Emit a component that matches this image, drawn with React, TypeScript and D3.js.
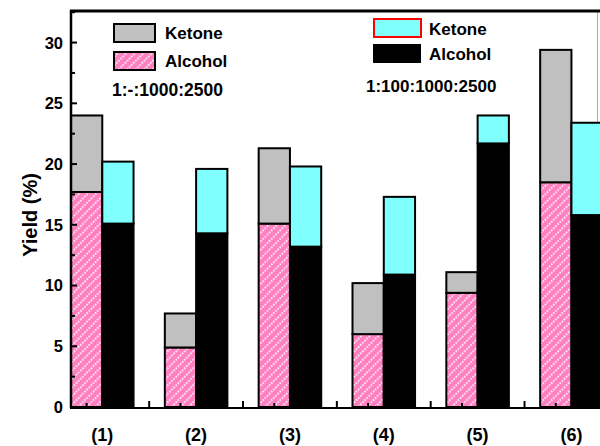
import * as d3 from 'd3';

const groups = ['(1)', '(2)', '(3)', '(4)', '(5)', '(6)'];
// 1:-:1000:2500 series
const alcoholA = [17.7, 4.9, 15.1, 6.0, 9.4, 18.5];
const ketoneA = [24.0, 7.7, 21.3, 10.2, 11.1, 29.4]; // stacked totals
// 1:100:1000:2500 series
const alcoholB = [15.1, 14.3, 13.2, 10.9, 21.7, 15.8];
const ketoneB = [20.2, 19.6, 19.8, 17.3, 24.0, 23.4]; // stacked totals
const yTicks = [0, 5, 10, 15, 20, 25, 30];

const W = 600;
const H = 446;
const font = 'Liberation Sans, Arial, sans-serif';

export default function App() {
  // every bar takes one unit: A at 3k+1, B at 3k+2, gap at 3k+3
  const x = d3.scaleLinear().domain([0.5, 18.5]).range([71, 634]);
  const y = d3.scaleLinear().domain([0, 32.6]).range([407, 11]);
  const bw = x(1) - x(0);

  const minorY = d3.range(0, 33, 2.5).filter(v => v % 5 !== 0);
  const xTickPos = d3.range(1, 19);

  const bars: { x: number; y0: number; y1: number; fill: string }[] = [];
  groups.forEach((_, i) => {
    const pa = 3 * i + 1;
    const pb = 3 * i + 2;
    bars.push({ x: pa, y0: 0, y1: alcoholA[i], fill: 'url(#hatch)' });
    bars.push({ x: pa, y0: alcoholA[i], y1: ketoneA[i], fill: '#c0c0c0' });
    bars.push({ x: pb, y0: 0, y1: alcoholB[i], fill: '#000' });
    bars.push({ x: pb, y0: alcoholB[i], y1: ketoneB[i], fill: '#80ffff' });
  });

  return (
    <svg width={W} height={H} style={{ position: 'absolute', left: 0, top: 0, background: '#fff' }}>
      <defs>
        <pattern id="hatch" width="6" height="6" patternUnits="userSpaceOnUse" patternTransform="rotate(45)">
          <rect width="6" height="6" fill="#ff80c0" />
          <line x1="1" y1="0" x2="1" y2="6" stroke="#fff" strokeWidth="1.8" strokeDasharray="1.5,1.5" />
        </pattern>
      </defs>

      {/* frame */}
      <line x1={597.5} x2={597.5} y1={11} y2={408} stroke="#aaa" strokeWidth={1} />
      <line x1={70} x2={600} y1={11} y2={11} stroke="#000" strokeWidth={3} />

      {bars.map((b, i) => (
        <rect key={i} x={x(b.x - 0.5)} y={y(b.y1)} width={bw} height={y(b.y0) - y(b.y1)}
          fill={b.fill} stroke="#000" strokeWidth={2} />
      ))}

      {/* axes */}
      <line x1={71} x2={71} y1={10} y2={408} stroke="#000" strokeWidth={2.5} />
      <line x1={70} x2={600} y1={408} y2={408} stroke="#000" strokeWidth={2} />
      {yTicks.map(t => (
        <g key={t}>
          <line x1={71} x2={77} y1={y(t)} y2={y(t)} stroke="#000" strokeWidth={2} />
          <text x={63} y={y(t)} dy="0.36em" textAnchor="end" fontFamily={font} fontWeight="bold" fontSize={16.5}>{t}</text>
        </g>
      ))}
      {minorY.map(t => (
        <line key={t} x1={71} x2={75} y1={y(t)} y2={y(t)} stroke="#000" strokeWidth={2} />
      ))}
      {xTickPos.map(p => (
        <line key={p} x1={x(p)} x2={x(p)} y1={408} y2={p % 3 === 0 ? 401 : 403} stroke="#000" strokeWidth={2} />
      ))}
      {groups.map((g, i) => (
        <text key={g} x={x(3 * i + 1.5)} y={441} textAnchor="middle" fontFamily={font} fontWeight="bold" fontSize={18}>{g}</text>
      ))}
      <text transform="translate(30,215) rotate(-90)" textAnchor="middle" dy="0.35em" fontFamily={font} fontWeight="bold" fontSize={20}>Yield (%)</text>

      {/* legend A */}
      <rect x={114} y={24} width={41} height={18} fill="#c0c0c0" stroke="#000" strokeWidth={2} />
      <rect x={114} y={52} width={41} height={18} fill="url(#hatch)" stroke="#000" strokeWidth={2} />
      <text x={165} y={33} dy="0.36em" fontFamily={font} fontWeight="bold" fontSize={17}>Ketone</text>
      <text x={165} y={61} dy="0.36em" fontFamily={font} fontWeight="bold" fontSize={17}>Alcohol</text>
      <text x={112} y={90} dy="0.36em" fontFamily={font} fontWeight="bold" fontSize={17.5}>1:-:1000:2500</text>

      {/* legend B */}
      <rect x={374} y={19} width={47} height={18} fill="#80ffff" stroke="#ff0000" strokeWidth={2} />
      <rect x={373} y={44} width={48} height={19} fill="#000" />
      <text x={429} y={29} dy="0.36em" fontFamily={font} fontWeight="bold" fontSize={17}>Ketone</text>
      <text x={429} y={54} dy="0.36em" fontFamily={font} fontWeight="bold" fontSize={17}>Alcohol</text>
      <text x={366} y={86} dy="0.36em" fontFamily={font} fontWeight="bold" fontSize={17}>1:100:1000:2500</text>
    </svg>
  );
}
